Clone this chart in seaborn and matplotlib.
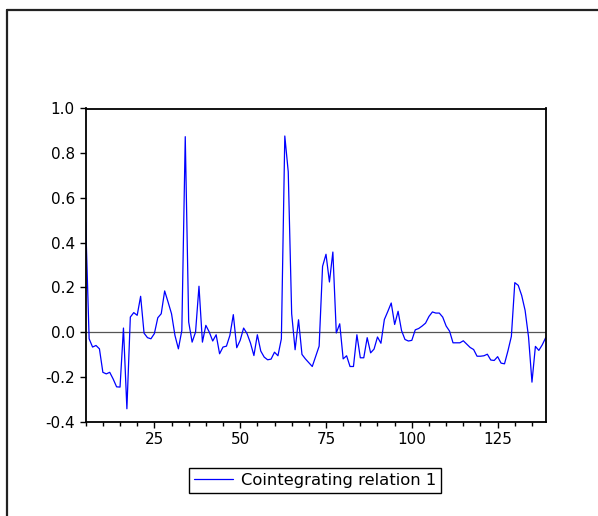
import matplotlib
matplotlib.use("Agg")
import matplotlib.pyplot as plt
import seaborn as sns
import pandas as pd
from matplotlib.lines import Line2D
from matplotlib.ticker import MultipleLocator, FixedLocator, FormatStrFormatter

# observation numbers (5 .. 139)
obs = list(range(5, 140))

# cointegrating relation 1 values
relation = [
    0.49, -0.03, -0.067, -0.06, -0.075, -0.18, -0.187, -0.18, -0.21, -0.245,
    -0.246, 0.018, -0.343, 0.067, 0.087, 0.075, 0.16, -0.005, -0.025, -0.03,
    -0.007, 0.064, 0.082, 0.184, 0.134, 0.082, -0.015, -0.075, 0.007, 0.874,
    0.045, -0.045, 0.0, 0.205, -0.045, 0.03, 0.0, -0.04, -0.012, -0.097,
    -0.067, -0.063, -0.015, 0.078, -0.07, -0.037, 0.018, -0.007, -0.049, -0.105,
    -0.012, -0.085, -0.112, -0.124, -0.121, -0.09, -0.106, -0.03, 0.877, 0.717,
    0.082, -0.079, 0.055, -0.1, -0.12, -0.137, -0.154, -0.109, -0.063, 0.294,
    0.348, 0.224, 0.358, -0.004, 0.037, -0.12, -0.106, -0.154, -0.154, -0.012,
    -0.115, -0.115, -0.025, -0.093, -0.076, -0.022, -0.05, 0.056, 0.092, 0.13,
    0.034, 0.093, 0.007, -0.033, -0.04, -0.037, 0.01, 0.016, 0.027, 0.04,
    0.07, 0.09, 0.085, 0.085, 0.067, 0.027, 0.004, -0.048, -0.048, -0.048,
    -0.039, -0.054, -0.069, -0.078, -0.108, -0.108, -0.106, -0.099, -0.125, -0.127,
    -0.11, -0.139, -0.142, -0.084, -0.019, 0.221, 0.209, 0.164, 0.097, -0.022,
    -0.224, -0.064, -0.082, -0.057, -0.025,
]

series_name = "Cointegrating relation 1"
y_ticks = [-0.4, -0.2, 0.0, 0.2, 0.4, 0.6, 0.8, 1.0]
x_major = [25, 50, 75, 100, 125]

sns.set_theme(style="ticks")
plt.rcParams['font.family'] = ['DejaVu Sans']
plt.rcParams['text.color'] = 'black'

fig = plt.figure(figsize=(5.98, 5.16), dpi=100)
W, H = 598.0, 516.0
left, right, top, bottom = 85.7, 545.7, 108.5, 421.5
ax = fig.add_axes([left / W, 1 - bottom / H, (right - left) / W, (bottom - top) / H])

df = pd.DataFrame({"obs": obs, "value": relation})
sns.lineplot(data=df, x="obs", y="value", ax=ax, color="#0000ff",
             linewidth=0.9, label=series_name, legend=False)
ax.axhline(0, color="#555555", lw=0.9, zorder=1)

ax.set_xlim(5, 139)
ax.set_ylim(-0.4, 1.0)
ax.yaxis.set_major_locator(FixedLocator(y_ticks))
ax.yaxis.set_major_formatter(FormatStrFormatter("%.1f"))
ax.xaxis.set_major_locator(FixedLocator(x_major))
ax.xaxis.set_minor_locator(MultipleLocator(5))
ax.set_xlabel("")
ax.set_ylabel("")

for s in ax.spines.values():
    s.set_color("black")
    s.set_linewidth(1.3)

ax.tick_params(axis="both", which="major", direction="out", length=4.3,
               width=1.0, color="black", labelsize=11, labelcolor="black", pad=3.5)
ax.tick_params(axis="x", which="minor", direction="out", length=2.8,
               width=1.0, color="black")
ax.tick_params(top=False, right=False, which="both")

handles, labels = ax.get_legend_handles_labels()
leg = fig.legend(handles, labels, loc="center",
                 bbox_to_anchor=(315 / W, 1 - 480.5 / H),
                 frameon=True, fancybox=False, framealpha=1, edgecolor="black",
                 fontsize=11.8, handlelength=2.4, handletextpad=0.5,
                 borderpad=0.3, borderaxespad=0, labelcolor="black")
leg.get_frame().set_linewidth(1.0)

# outer frame (top and left edges of the surrounding box)
fig.add_artist(Line2D([7 / W, 1], [1 - 10 / H, 1 - 10 / H], transform=fig.transFigure,
                      color="#222222", lw=1.6))
fig.add_artist(Line2D([7 / W, 7 / W], [0, 1 - 10 / H], transform=fig.transFigure,
                      color="#222222", lw=1.6))

fig.savefig("out.png", dpi=100)
